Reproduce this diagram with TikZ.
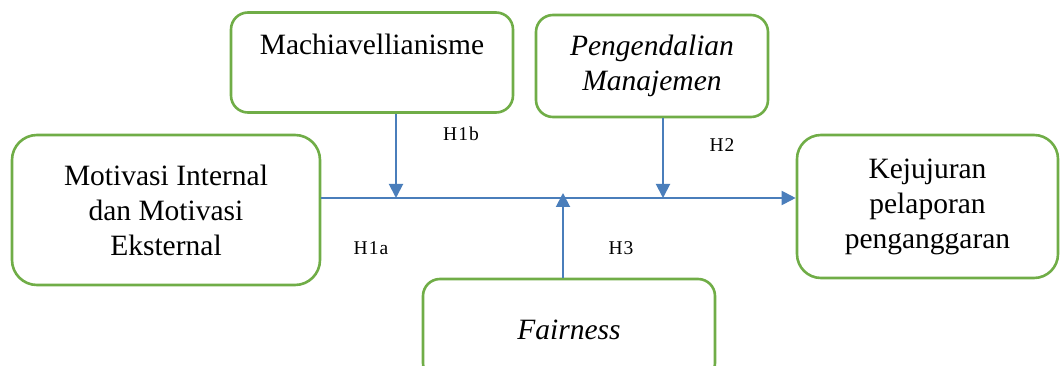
\documentclass[tikz,border=0pt]{standalone}
\usepackage{fontspec}
\setmainfont{Liberation Serif}
\newfontfamily\labfont[LetterSpace=6]{Liberation Serif}
\usetikzlibrary{arrows.meta}
\definecolor{boxgreen}{HTML}{70AD47}
\definecolor{lineblue}{HTML}{4A7EBB}
\tikzset{
  varbox/.style={draw=boxgreen, line width=2.6pt, rectangle, align=center,
    inner sep=0pt, font=\fontsize{29.5}{35}\selectfont},
  link/.style={draw=lineblue, line width=1.9pt, -{Triangle[length=14pt,width=14pt]}},
  hlabel/.style={font=\labfont\fontsize{19.5}{21}\selectfont, inner sep=0pt}
}
\begin{document}
\begin{tikzpicture}[x=1pt,y=-1pt]
\useasboundingbox (0,0) rectangle (1061,366);
\node[varbox, rounded corners=25pt, minimum width=308pt, minimum height=150pt] (mot) at (166,210)
  {Motivasi Internal\\dan Motivasi\\Eksternal};
\node[varbox, rounded corners=17pt, minimum width=282pt, minimum height=100pt] (mach) at (372,62.5)
  {Machiavellianisme\\[-10pt]\strut};
\node[varbox, rounded corners=17pt, minimum width=232pt, minimum height=102pt] (peng) at (652,66)
  {\itshape Pengendalian\\\itshape Manajemen};
\node[varbox, rounded corners=24pt, minimum width=261pt, minimum height=143pt] (kej) at (927.5,206.5)
  {Kejujuran\\pelaporan\\penganggaran};
\node[varbox, rounded corners=17pt, minimum width=292pt, minimum height=101pt] (fair) at (569,329.5)
  {\itshape Fairness};
\coordinate (m) at (0,198);
\coordinate (j1) at (396,198);
\coordinate (j2) at (663,198);
\coordinate (j3) at (563,193);
\draw[link] (mot.east |- m) -- (kej.west |- m);
\draw[link] (mach.south -| j1) -- (j1);
\draw[link] (peng.south -| j2) -- (j2);
\draw[link] (fair.north -| j3) -- (j3);
\node[hlabel] (h1b) at (461,134) {H1b};
\node[hlabel] (h2) at (722,145) {H2};
\node[hlabel] (h1a) at (371,248) {H1a};
\node[hlabel] (h3) at (621,248) {H3};
\end{tikzpicture}
\end{document}
